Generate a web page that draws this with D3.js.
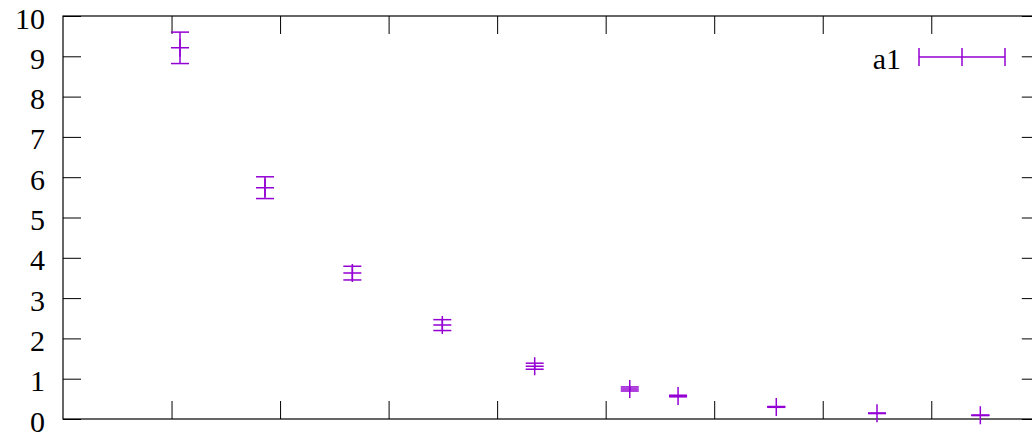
<!DOCTYPE html>
<html>
<head>
<meta charset="utf-8">
<script src="https://cdn.jsdelivr.net/npm/d3@7"></script>
<style>
  html, body { margin: 0; padding: 0; background: #fff; }
  svg { display: block; }
  text { font-family: "Liberation Serif", "Times New Roman", Times, "DejaVu Serif", serif; }
</style>
</head>
<body>
<script>
// Measurements: x position, mean value and error half-width
const xValues = [1.078, 1.861, 2.666, 3.495, 4.346, 5.222, 5.667, 6.572, 7.500, 8.452];
const yValues = [9.21, 5.74, 3.62, 2.33, 1.31, 0.745, 0.57, 0.30, 0.14, 0.09];
const yErrors = [0.39, 0.27, 0.17, 0.135, 0.075, 0.05, 0.02, 0.01, 0.005, 0.005];
const xTicks = [1, 2, 3, 4, 5, 6, 7, 8];
const yTicks = [0, 1, 2, 3, 4, 5, 6, 7, 8, 9, 10];
const seriesName = "a1";

(function () {
  const W = 1032, H = 436;
  const plotL = 63, plotR = 1039.8, plotT = 16, plotB = 419;
  const color = "#9400d3";
  const tickLen = 18, cap = 9, mark = 9;
  const serif = "Liberation Serif, Times New Roman, serif";

  const svg = d3.select("body").append("svg")
    .attr("width", W).attr("height", H);

  const x = d3.scaleLinear().domain([0, 9]).range([plotL, plotR]);
  const y = d3.scaleLinear().domain([0, 10]).range([plotB, plotT]);

  // Axes: ticks drawn inward, mirrored on the opposite sides
  const axisStyle = g => {
    g.attr("font-family", serif);
    g.select(".domain").remove();
    g.selectAll(".tick line").attr("stroke", "#000").attr("stroke-width", 1);
  };
  svg.append("g").attr("transform", `translate(0,${plotB})`)
    .call(d3.axisBottom(x).tickValues(xTicks).tickSize(-tickLen).tickFormat(""))
    .call(axisStyle);
  svg.append("g").attr("transform", `translate(0,${plotT})`)
    .call(d3.axisTop(x).tickValues(xTicks).tickSize(-tickLen).tickFormat(""))
    .call(axisStyle);
  const yl = svg.append("g").attr("transform", `translate(${plotL},0)`)
    .call(d3.axisLeft(y).tickValues(yTicks).tickSize(-tickLen).tickPadding(0))
    .call(axisStyle);
  yl.selectAll(".tick text")
    .attr("x", -18).attr("dy", null).attr("y", 12)
    .attr("font-size", 30).attr("fill", "#000");
  svg.append("g").attr("transform", `translate(${plotR},0)`)
    .call(d3.axisRight(y).tickValues(yTicks).tickSize(-tickLen).tickFormat(""))
    .call(axisStyle);

  // Plot border
  svg.append("rect")
    .attr("x", plotL).attr("y", plotT)
    .attr("width", plotR - plotL).attr("height", plotB - plotT)
    .attr("fill", "none").attr("stroke", "#000").attr("stroke-width", 1.2);

  // Error bars with caps and "+" point markers
  const data = xValues.map((v, i) => ({ x: v, y: yValues[i], e: yErrors[i] }));
  const pts = svg.append("g").attr("stroke", color).attr("stroke-width", 1.5).attr("fill", "none");
  const g = pts.selectAll("g").data(data).join("g");
  g.append("line")
    .attr("x1", d => x(d.x)).attr("x2", d => x(d.x))
    .attr("y1", d => y(d.y - d.e)).attr("y2", d => y(d.y + d.e));
  g.append("line")
    .attr("x1", d => x(d.x) - cap).attr("x2", d => x(d.x) + cap)
    .attr("y1", d => y(d.y + d.e)).attr("y2", d => y(d.y + d.e));
  g.append("line")
    .attr("x1", d => x(d.x) - cap).attr("x2", d => x(d.x) + cap)
    .attr("y1", d => y(d.y - d.e)).attr("y2", d => y(d.y - d.e));
  g.append("path")
    .attr("d", d => {
      const cx = x(d.x), cy = y(d.y);
      return `M${cx - mark},${cy}H${cx + mark}M${cx},${cy - mark}V${cy + mark}`;
    });

  // Key
  const key = svg.append("g").attr("transform", "translate(0,57)");
  key.append("text").attr("x", 901).attr("y", 12)
    .attr("text-anchor", "end").attr("font-size", 30).attr("fill", "#000")
    .attr("font-family", serif)
    .text(seriesName);
  const kg = key.append("g").attr("stroke", color).attr("stroke-width", 1.5);
  kg.append("line").attr("x1", 919).attr("x2", 1005).attr("y1", 0).attr("y2", 0);
  kg.append("line").attr("x1", 919).attr("x2", 919).attr("y1", -cap).attr("y2", cap);
  kg.append("line").attr("x1", 1005).attr("x2", 1005).attr("y1", -cap).attr("y2", cap);
  kg.append("line").attr("x1", 962).attr("x2", 962).attr("y1", -mark).attr("y2", mark);
})();
</script>
</body>
</html>
